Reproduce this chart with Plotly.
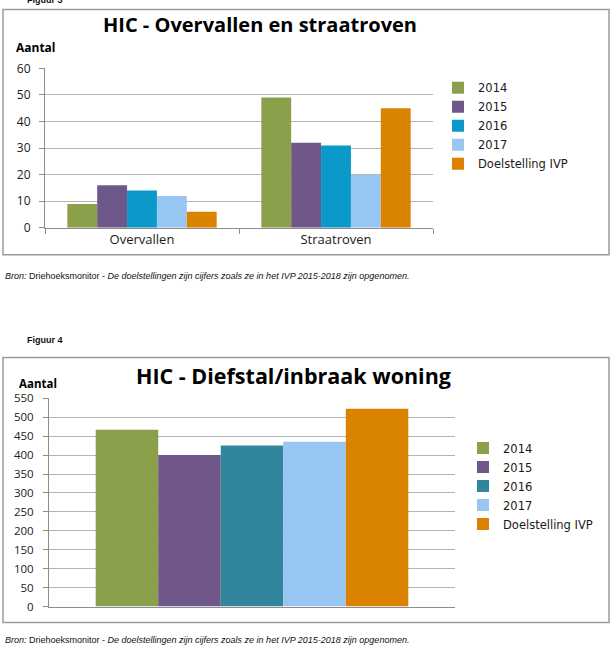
import plotly.graph_objects as go

W, H = 613, 650

series = ["2014", "2015", "2016", "2017", "Doelstelling IVP"]
cats1 = ["Overvallen", "Straatroven"]
vals1 = {
    "2014": [9, 49],
    "2015": [16, 32],
    "2016": [14, 31],
    "2017": [12, 20],
    "Doelstelling IVP": [6, 45],
}
cats2 = ["Diefstal/inbraak woning"]
vals2 = {
    "2014": [467],
    "2015": [400],
    "2016": [425],
    "2017": [435],
    "Doelstelling IVP": [522],
}
colors1 = ["#8BA04B", "#6F5889", "#0B99C9", "#98C6F2", "#D98300"]
colors2 = ["#8BA04B", "#6F5889", "#31869D", "#98C6F2", "#D98300"]

title1 = "HIC - Overvallen en straatroven"
title2 = "HIC - Diefstal/inbraak woning"
caption = ("<i>Bron:</i> Driehoeksmonitor - <i>De doelstellingen zijn cijfers zoals ze "
           "in het IVP 2015-2018 zijn opgenomen.</i>")


def px(x):
    return x / W


def Y(r):
    # compensate the vertical scaling seen in the rendered picture
    return 325 + (r - 325) / 0.977


def py(y):
    return 1 - Y(y) / H


def pyraw(y):
    return 1 - y / H


fig = go.Figure()
for s, c in zip(series, colors1):
    fig.add_trace(go.Bar(x=cats1, y=vals1[s], name=s, marker_color=c,
                         marker_line_width=0, xaxis="x", yaxis="y",
                         legend="legend"))
for s, c in zip(series, colors2):
    fig.add_trace(go.Bar(x=cats2, y=vals2[s], name=s, marker_color=c,
                         marker_line_width=0, xaxis="x2", yaxis="y2",
                         legend="legend2"))

grid = "#B4B4B4"
axcol = "#8C8C8C"
tf1 = dict(family="Open Sans", size=12, color="#1a1a1a")
tf2 = dict(family="Open Sans", size=11.5, color="#1a1a1a")
catf = dict(family="Open Sans", size=13, color="#1a1a1a")
legf = dict(family="DejaVu Sans", size=11.5, color="#1a1a1a")

fig.update_layout(
    width=W, height=H,
    margin=dict(l=0, r=0, t=0, b=0),
    paper_bgcolor="white", plot_bgcolor="white",
    bargap=0.23, bargroupgap=0,
    barmode="group",
    xaxis=dict(domain=[px(45), px(433)], anchor="y", showline=True, linecolor=axcol,
               ticks="outside", tickson="boundaries", ticklen=5, tickcolor=axcol,
               tickfont=catf, showgrid=False),
    yaxis=dict(domain=[py(227), py(67)], anchor="x", range=[0, 60], dtick=10,
               showline=True, linecolor=axcol, ticks="outside", ticklen=5,
               tickcolor=axcol, gridcolor=grid, tickfont=tf1, zeroline=False,
               ticklabelstandoff=6),
    xaxis2=dict(domain=[px(49), px(455)], anchor="y2", showline=True, linecolor=axcol,
                showticklabels=False, showgrid=False),
    yaxis2=dict(domain=[py(607), py(398)], anchor="x2", range=[0, 550], dtick=50,
                showline=True, linecolor=axcol, ticks="outside", ticklen=5,
                tickcolor=axcol, gridcolor=grid, tickfont=tf2, zeroline=False,
                ticklabelstandoff=7),
    legend=dict(x=px(438), y=pyraw(66), xanchor="left", yanchor="top",
                font=legf, bgcolor="rgba(0,0,0,0)", traceorder="normal"),
    legend2=dict(x=px(463), y=pyraw(436), xanchor="left", yanchor="top",
                 font=legf, bgcolor="rgba(0,0,0,0)", traceorder="normal"),
    showlegend=True,
)

# chart frames
fig.add_shape(type="rect", xref="paper", yref="paper", x0=px(3), x1=px(609),
              y0=py(254), y1=py(8), line=dict(color="#9a9a9a", width=1.5))
fig.add_shape(type="rect", xref="paper", yref="paper", x0=px(3), x1=px(609),
              y0=py(623), y1=py(357), line=dict(color="#9a9a9a", width=1.5))

ann = []
ann.append(dict(text="<b>Figuur 3</b>", x=px(25), y=py(-2), xanchor="left", yanchor="middle",
                font=dict(family="Liberation Sans", size=9, color="#111")))
ann.append(dict(text=f"<b>{title1}</b>", x=px(260), y=py(23), xanchor="center", yanchor="middle",
                font=dict(family="Open Sans", size=20, color="#000")))
ann.append(dict(text="<b>Aantal</b>", x=px(14), y=py(46), xanchor="left", yanchor="middle",
                font=dict(family="Open Sans", size=12, color="#000")))
ann.append(dict(text=caption, x=px(3), y=py(275), xanchor="left", yanchor="middle",
                font=dict(family="Liberation Sans", size=9, color="#111")))
ann.append(dict(text="<b>Figuur 4</b>", x=px(25), y=py(340), xanchor="left", yanchor="middle",
                font=dict(family="Liberation Sans", size=9, color="#111")))
ann.append(dict(text=f"<b>{title2}</b>", x=px(293), y=py(375), xanchor="center", yanchor="middle",
                font=dict(family="Open Sans", size=21.5, color="#000")))
ann.append(dict(text="<b>Aantal</b>", x=px(17), y=py(383), xanchor="left", yanchor="middle",
                font=dict(family="Open Sans", size=11.5, color="#000")))
ann.append(dict(text=caption, x=px(3), y=py(641), xanchor="left", yanchor="middle",
                font=dict(family="Liberation Sans", size=9, color="#111")))
for a in ann:
    a.update(xref="paper", yref="paper", showarrow=False)
fig.update_layout(annotations=ann)

post = """
document.documentElement.style.margin='0';
document.body.style.margin='0';
document.body.style.overflow='hidden';
"""
fig.write_html("out.html", config={"displayModeBar": False}, post_script=post)
